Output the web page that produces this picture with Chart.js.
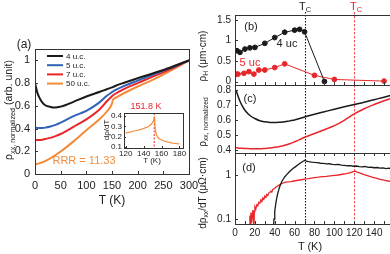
<!DOCTYPE html>
<html>
<head>
<meta charset="utf-8">
<script src="https://cdn.jsdelivr.net/npm/chart.js@4"></script>
<style>
  html, body { margin: 0; padding: 0; width: 390px; height: 254px; overflow: hidden; background: #fff; }
  canvas { position: absolute; left: 0; top: 0; }
  .t { position: absolute; white-space: nowrap; line-height: 1; transform: translate(-50%, -50%);
       font-family: 'Liberation Sans', Arial, sans-serif; color: #222; z-index: 2; }
  .r { transform: translate(-50%, -50%) rotate(-90deg); }
  .t sub { font-size: 0.68em; vertical-align: -0.3em; }
</style>
</head>
<body>
<canvas id="cA" width="400" height="254"></canvas>
<canvas id="cIn" width="400" height="254"></canvas>
<canvas id="cB" width="400" height="254"></canvas>
<canvas id="cC" width="400" height="254"></canvas>
<canvas id="cD" width="400" height="254"></canvas>

<div class="t" style="left:24px;top:44px;font-size:12px">(a)</div>
<div class="t r" style="left:10px;top:110px;font-size:10.5px">ρ<sub>xx, normalized</sub> (arb. unit)</div>
<div class="t" style="left:112px;top:200px;font-size:12px">T (K)</div>
<div class="t" style="left:84px;top:160px;font-size:11px;color:#f28c3a">RRR = 11.33</div>
<div class="t" style="left:146px;top:106px;font-size:9px;color:#e8262a">151.8 K</div>
<div class="t r" style="left:107px;top:130px;font-size:8px">dρ/dT</div>
<div class="t" style="left:152px;top:161px;font-size:8px">T (K)</div>

<div class="t" style="left:305px;top:7px;font-size:11px">T<sub>C</sub></div>
<div class="t" style="left:356px;top:7px;font-size:11px;color:#e8262a">T<sub>C</sub></div>
<div class="t" style="left:251px;top:26px;font-size:11px">(b)</div>
<div class="t" style="left:250px;top:98px;font-size:11px">(c)</div>
<div class="t" style="left:249px;top:167px;font-size:11px">(d)</div>
<div class="t" style="left:287px;top:43px;font-size:11px">4 uc</div>
<div class="t" style="left:250px;top:62px;font-size:11px;color:#e8262a">5 uc</div>
<div class="t r" style="left:204px;top:56px;font-size:10px">ρ<sub>H</sub> (μm·cm)</div>
<div class="t r" style="left:204px;top:122px;font-size:10px">ρ<sub>xx, normalized</sub></div>
<div class="t r" style="left:204px;top:193px;font-size:10px">dρ<sub>xx</sub>/dT (μΩ·cm)</div>
<div class="t" style="left:310px;top:246px;font-size:11px">T (K)</div>

<script>
// ---- (a) normalized rho_xx vs T ----
const tA = [0, 5, 10, 15, 20, 30, 40, 50, 60, 75, 100, 125, 140, 150, 152, 155, 175, 200, 225, 250, 275, 300];
const rho4uc  = [0.80, 0.71, 0.66, 0.625, 0.605, 0.59, 0.585, 0.593, 0.607, 0.635, 0.682, 0.722, 0.746, 0.762, 0.765, 0.772, 0.805, 0.843, 0.878, 0.915, 0.957, 1.0];
const rho5uc  = [0.41, 0.405, 0.404, 0.405, 0.408, 0.418, 0.432, 0.452, 0.475, 0.51, 0.555, 0.628, 0.688, 0.72, 0.726, 0.735, 0.778, 0.822, 0.866, 0.91, 0.953, 1.0];
const rho7uc  = [0.30, 0.30, 0.30, 0.303, 0.308, 0.318, 0.333, 0.352, 0.376, 0.415, 0.48, 0.565, 0.64, 0.685, 0.692, 0.702, 0.752, 0.80, 0.848, 0.895, 0.945, 1.0];
const rho50uc = [0.085, 0.09, 0.096, 0.104, 0.114, 0.138, 0.167, 0.198, 0.232, 0.287, 0.385, 0.48, 0.55, 0.62, 0.655, 0.665, 0.715, 0.77, 0.82, 0.875, 0.935, 1.0];
const ticksAx = [0, 50, 100, 150, 200, 250, 300];
const ticksAy = [0, 0.2, 0.4, 0.6, 0.8, 1];

// ---- inset: d rho / dT of 50 u.c. ----
const tIn   = [120, 123, 126, 129, 132, 135, 138, 141, 143, 145, 147, 149, 150, 151, 151.8, 152.4, 153, 154, 155, 157, 159, 162, 165, 168, 171, 174, 177, 180];
const drIn  = [0.235, 0.242, 0.247, 0.255, 0.26, 0.266, 0.275, 0.283, 0.29, 0.297, 0.31, 0.325, 0.34, 0.355, 0.38, 0.33, 0.27, 0.225, 0.205, 0.183, 0.172, 0.16, 0.152, 0.146, 0.14, 0.136, 0.132, 0.13];
const ticksInx = [120, 140, 160, 180];
const ticksIny = [0.1, 0.2, 0.3, 0.4];

// ---- (b) Hall resistivity ----
const tH4  = [2, 5, 10, 15, 20, 30, 40, 50, 60, 65, 70, 90];
const rhoH4 = [0.75, 0.71, 0.79, 0.82, 0.83, 0.93, 1.07, 1.2, 1.25, 1.27, 1.21, 0.0];
const tH5  = [1, 3, 9, 14, 19, 24, 30, 40, 50, 80, 100, 150];
const rhoH5 = [0.18, 0.18, 0.2, 0.24, 0.18, 0.28, 0.28, 0.34, 0.43, 0.15, 0.05, 0.01];
const ticksBy = [0, 0.5, 1, 1.5];

// ---- (c) normalized rho_xx ----
const tC = [1, 3, 5, 8, 10, 15, 20, 25, 30, 35, 40, 45, 50, 55, 60, 65, 70, 80, 90, 100, 110, 120, 130, 140, 150, 158];
const rhoC4 = [0.80, 0.76, 0.725, 0.685, 0.665, 0.63, 0.61, 0.595, 0.588, 0.584, 0.583, 0.585, 0.588, 0.594, 0.60, 0.61, 0.62, 0.638, 0.655, 0.672, 0.688, 0.703, 0.718, 0.735, 0.752, 0.765];
const rhoC5 = [0.415, 0.413, 0.412, 0.411, 0.41, 0.409, 0.408, 0.408, 0.41, 0.413, 0.418, 0.424, 0.432, 0.442, 0.455, 0.469, 0.485, 0.51, 0.535, 0.562, 0.598, 0.64, 0.675, 0.703, 0.728, 0.745];
const ticksCy = [0.4, 0.5, 0.6, 0.7, 0.8];

// ---- (d) d rho_xx / dT ----
const tD4 = [38.8, 39.3, 40, 41, 42, 43, 44, 45, 46, 47, 48, 50, 52, 55, 58, 61, 64, 67, 69, 70, 72, 74, 77, 80, 83, 86, 89, 92, 95, 98, 101, 104, 107, 110, 113, 116, 119, 122, 125, 128, 131, 134, 137, 140, 143, 146, 149, 152, 155, 158];
const dD4 = [0.07, 0.1, 0.15, 0.22, 0.3, 0.38, 0.46, 0.54, 0.62, 0.7, 0.77, 0.9, 1.02, 1.2, 1.38, 1.55, 1.75, 1.95, 2.08, 2.14, 2.06, 2.02, 1.97, 1.93, 1.9, 1.85, 1.83, 1.79, 1.8, 1.74, 1.72, 1.74, 1.67, 1.66, 1.62, 1.64, 1.58, 1.6, 1.55, 1.53, 1.56, 1.49, 1.5, 1.46, 1.48, 1.43, 1.45, 1.4, 1.43, 1.39];
const tD5 = [14.5, 15, 15.5, 16, 17, 18, 19, 19.5, 20, 21, 22, 23, 24, 25, 26, 27, 28, 29, 30, 31, 32, 33, 34, 35, 36, 37, 38, 40, 42, 44, 46, 48, 50, 53, 56, 59, 62, 65, 68, 71, 74, 77, 80, 84, 88, 92, 96, 100, 104, 108, 112, 116, 119, 121, 123, 126, 130, 134, 138, 142, 146, 150, 154, 158];
const dD5 = [0.05, 0.12, 0.06, 0.14, 0.1, 0.16, 0.06, 0.15, 0.19, 0.17, 0.21, 0.2, 0.24, 0.23, 0.27, 0.25, 0.3, 0.28, 0.33, 0.31, 0.36, 0.34, 0.39, 0.4, 0.43, 0.41, 0.47, 0.5, 0.55, 0.58, 0.62, 0.65, 0.68, 0.7, 0.71, 0.73, 0.75, 0.77, 0.79, 0.82, 0.83, 0.85, 0.87, 0.89, 0.92, 0.93, 0.96, 0.98, 1.0, 1.04, 1.08, 1.13, 1.19, 1.22, 1.16, 1.1, 1.02, 0.96, 0.9, 0.85, 0.8, 0.76, 0.73, 0.71];
const ticksDx = [0, 10, 20, 30, 40, 50, 60, 70, 80, 90, 100, 110, 120, 130, 140, 150];
const labelsDx = ['0', '', '20', '', '40', '', '60', '', '80', '', '100', '', '120', '', '140', ''];
const ticksDy = [0.1, 1];

const tcBlack = 70, tcRed = 120;

const BLACK = '#1a1a1a', BLUE = '#2f62b8', RED = '#e8262a', ORANGE = '#f28c3a';

Chart.defaults.font.family = "'Liberation Sans', Arial, sans-serif";
Chart.defaults.color = '#222';
Chart.defaults.animation = false;

const pts = (xs, ys) => xs.map((x, i) => ({x: x, y: ys[i]}));

// frame + inward tick marks
const framePlugin = {
  id: 'frame',
  afterDraw(chart, args, opts) {
    const ctx = chart.ctx, a = chart.chartArea;
    ctx.save();
    ctx.strokeStyle = '#333';
    ctx.lineWidth = 1;
    ctx.strokeRect(Math.round(a.left) + 0.5, Math.round(a.top) + 0.5, Math.round(a.right - a.left), Math.round(a.bottom - a.top));
    (opts.marks || []).forEach(m => {
      const sc = chart.scales[m.axis];
      ctx.beginPath();
      sc.ticks.forEach(tk => {
        const p = Math.round(sc.getPixelForValue(tk.value)) + 0.5;
        if (m.side === 'bottom') { ctx.moveTo(p, a.bottom); ctx.lineTo(p, a.bottom - m.len); }
        if (m.side === 'top') { ctx.moveTo(p, a.top); ctx.lineTo(p, a.top + m.len); }
        if (m.side === 'left') { ctx.moveTo(a.left, p); ctx.lineTo(a.left + m.len, p); }
      });
      ctx.stroke();
    });
    ctx.restore();
  }
};

// Tc vertical lines
const tcPlugin = {
  id: 'tc',
  beforeDatasetsDraw(chart, args, opts) {
    const ctx = chart.ctx, a = chart.chartArea, sx = chart.scales.x;
    ctx.save();
    [[tcBlack, BLACK, [1.5, 1.5], 1.1], [tcRed, RED, [2.5, 1.5], 0.8]].forEach(([v, c, d, w]) => {
      const x = Math.round(sx.getPixelForValue(v)) + 0.5;
      ctx.strokeStyle = c; ctx.lineWidth = w; ctx.setLineDash(d);
      ctx.beginPath(); ctx.moveTo(x, a.top - (opts.ext || 0)); ctx.lineTo(x, a.bottom); ctx.stroke();
    });
    ctx.restore();
  }
};

// legend inside panel (a)
const legendPlugin = {
  id: 'inLegend',
  afterDraw(chart) {
    const ctx = chart.ctx;
    ctx.save();
    ctx.font = "8px 'Liberation Sans', Arial, sans-serif";
    ctx.textBaseline = 'middle';
    chart.data.datasets.forEach((ds, i) => {
      const y = 56 + i * 9.2;
      ctx.strokeStyle = ds.borderColor; ctx.lineWidth = 2;
      ctx.beginPath(); ctx.moveTo(47, y); ctx.lineTo(63, y); ctx.stroke();
      ctx.fillStyle = '#222';
      ctx.fillText(ds.label, 66, y + 0.5);
    });
    ctx.restore();
  }
};

// inset marker at 151.8 K
const peakPlugin = {
  id: 'peak',
  beforeDatasetsDraw(chart) {
    const ctx = chart.ctx, a = chart.chartArea;
    const x = chart.scales.x.getPixelForValue(151.8);
    ctx.save(); ctx.strokeStyle = RED; ctx.lineWidth = 1; ctx.setLineDash([2, 1.5]);
    ctx.beginPath(); ctx.moveTo(x, a.top); ctx.lineTo(x, a.bottom); ctx.stroke(); ctx.restore();
  }
};

function fixedTicks(vals) {
  return s => { s.ticks = vals.map(v => ({value: v})); };
}

// build one panel with its plot area at box {l, t, r, b}
function panel(id, box, datasets, sx, sy, plugins, pluginOpts) {
  const yw = 30, xh = 20;
  return new Chart(document.getElementById(id), {
    type: 'line',
    data: {datasets: datasets},
    options: {
      responsive: false,
      layout: {padding: {left: box.l - yw, top: box.t, right: 400 - box.r, bottom: 254 - box.b - xh}},
      plugins: Object.assign({legend: {display: false}, tooltip: {enabled: false}}, pluginOpts),
      elements: {point: {radius: 0}},
      scales: {
        x: Object.assign({type: 'linear', grid: {display: false, drawTicks: false}, border: {display: false},
          afterFit: s => { s.height = xh; }}, sx),
        y: Object.assign({type: 'linear', grid: {display: false, drawTicks: false}, border: {display: false},
          afterFit: s => { s.width = yw; }}, sy)
      }
    },
    plugins: plugins
  });
}

const line = (label, data, color, w, extra) => Object.assign({label: label, data: data, borderColor: color,
  backgroundColor: color, borderWidth: w, fill: false}, extra || {});

// (a)
panel('cA', {l: 35, t: 49, r: 189, b: 174}, [
  line('4 u.c.', pts(tA, rho4uc), BLACK, 2, {cubicInterpolationMode: 'monotone'}),
  line('5 u.c.', pts(tA, rho5uc), BLUE, 2, {cubicInterpolationMode: 'monotone'}),
  line('7 u.c.', pts(tA, rho7uc), RED, 2, {cubicInterpolationMode: 'monotone'}),
  line('50 u.c.', pts(tA, rho50uc), ORANGE, 2, {cubicInterpolationMode: 'monotone'})
], {min: 0, max: 300, afterBuildTicks: fixedTicks(ticksAx), ticks: {autoSkip: false, maxRotation: 0, padding: 5, font: {size: 11}, callback: v => String(v)}},
   {min: 0, max: 1.1, afterBuildTicks: fixedTicks(ticksAy), ticks: {autoSkip: false, padding: 5, font: {size: 11}, callback: v => String(v)}},
   [framePlugin, legendPlugin],
   {frame: {marks: [{axis: 'x', side: 'bottom', len: 3}, {axis: 'y', side: 'left', len: 3}]}});

// inset
panel('cIn', {l: 124, t: 113, r: 183, b: 148}, [
  line('50 u.c.', pts(tIn, drIn), ORANGE, 1.2)
], {min: 118, max: 184, afterBuildTicks: fixedTicks(ticksInx), ticks: {autoSkip: false, maxRotation: 0, padding: 1, font: {size: 8}, callback: v => String(v)}},
   {min: 0.09, max: 0.43, afterBuildTicks: fixedTicks(ticksIny), ticks: {autoSkip: false, padding: 2, font: {size: 8}, callback: v => String(v)}},
   [framePlugin, peakPlugin],
   {frame: {marks: [{axis: 'x', side: 'bottom', len: 2}, {axis: 'y', side: 'left', len: 2}]}});

const xRight = {min: 0, max: 158, afterBuildTicks: fixedTicks(ticksDx),
  ticks: {autoSkip: false, maxRotation: 0, padding: 4, font: {size: 10}, callback: v => ''}};

// (b)
panel('cB', {l: 235, t: 15, r: 392, b: 85}, [
  line('4 uc', pts(tH4, rhoH4), BLACK, 1, {pointRadius: 2.4, tension: 0}),
  line('5 uc', pts(tH5, rhoH5), RED, 1, {pointRadius: 2.4, tension: 0})
], xRight,
   {min: -0.085, max: 1.62, afterBuildTicks: fixedTicks(ticksBy), ticks: {autoSkip: false, padding: 4, font: {size: 10}, callback: v => String(v)}},
   [framePlugin, tcPlugin],
   {frame: {marks: [{axis: 'x', side: 'bottom', len: 3}, {axis: 'y', side: 'left', len: 3}]}, tc: {ext: 3}});

// (c)
panel('cC', {l: 235, t: 85, r: 392, b: 153}, [
  line('4 uc', pts(tC, rhoC4), BLACK, 1.5, {cubicInterpolationMode: 'monotone'}),
  line('5 uc', pts(tC, rhoC5), RED, 1.5, {cubicInterpolationMode: 'monotone'})
], xRight,
   {min: 0.38, max: 0.833, afterBuildTicks: fixedTicks(ticksCy), ticks: {autoSkip: false, padding: 4, font: {size: 10}, callback: v => String(v)}},
   [framePlugin, tcPlugin],
   {frame: {marks: [{axis: 'y', side: 'left', len: 3}]}, tc: {}});

// (d)
const chartD = panel('cD', {l: 235, t: 153, r: 392, b: 224}, [
  line('4 uc', pts(tD4, dD4), BLACK, 1.3, {tension: 0}),
  line('5 uc', pts(tD5, dD5), RED, 1.3, {tension: 0})
], xRight,
   {type: 'logarithmic', min: 0.077, max: 3.16, afterBuildTicks: fixedTicks(ticksDy),
    ticks: {autoSkip: false, padding: 4, font: {size: 10}, callback: v => String(v)}},
   [framePlugin, tcPlugin],
   {frame: {marks: [{axis: 'x', side: 'bottom', len: 3}, {axis: 'x', side: 'top', len: 3}, {axis: 'y', side: 'left', len: 3}]}, tc: {}});

// T tick labels under (d) as text, placed by the chart's x scale
ticksDx.forEach((v, i) => {
  if (!labelsDx[i]) return;
  const d = document.createElement('div');
  d.className = 't';
  d.style.fontSize = '10px';
  d.style.left = chartD.scales.x.getPixelForValue(v) + 'px';
  d.style.top = (chartD.chartArea.bottom + 9) + 'px';
  d.textContent = labelsDx[i];
  document.body.appendChild(d);
});
</script>
</body>
</html>
